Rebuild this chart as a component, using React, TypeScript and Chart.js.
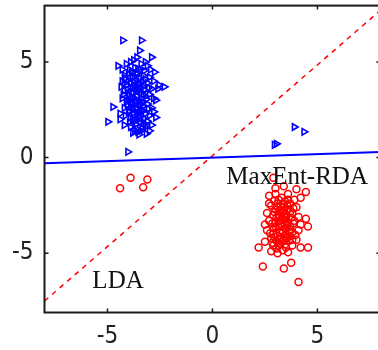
import React, { useEffect, useRef } from "react";
import { Chart, registerables } from "chart.js";

Chart.register(...registerables);

const X_RANGE = [-8, 8];
const Y_RANGE = [-8.1, 7.95];
const X_TICKS = [-5, 0, 5];
const Y_TICKS = [-5, 0, 5];

const BLUE_POINTS: number[][] = [
  [-4.27, 6.13], [-3.38, 6.13], [-3.47, 5.6], [-3.6, 5.25], [-2.9, 5.25], [-4.5, 4.8],
  [-2.76, 4.47], [-2.3, 3.7], [-2.55, 3.8], [-4.74, 2.65], [-4.98, 1.87], [-4.03, 0.3],
  [3.9, 1.6], [4.36, 1.35], [2.95, 0.67], [3.05, 0.72],
  [-4.3, 4.6], [-4.1, 4.9], [-3.9, 5.0], [-3.7, 4.7], [-3.4, 4.9], [-3.1, 4.8], [-2.95, 4.6],
  [-4.2, 4.3], [-4.0, 4.4], [-3.8, 4.2], [-3.6, 4.4], [-3.3, 4.3], [-3.0, 4.2], [-2.8, 4.0],
  [-4.3, 4.0], [-4.1, 3.8], [-3.9, 3.9], [-3.7, 3.7], [-3.5, 3.9], [-3.3, 3.7], [-3.1, 3.9],
  [-2.9, 3.6], [-2.6, 3.6], [-4.2, 3.5], [-4.0, 3.3], [-3.8, 3.4], [-3.6, 3.2], [-3.4, 3.4],
  [-3.2, 3.2], [-3.0, 3.3], [-2.8, 3.1], [-4.3, 3.1], [-4.1, 2.9], [-3.9, 3.0], [-3.7, 2.8],
  [-3.5, 2.9], [-3.3, 2.7], [-3.1, 2.8], [-2.9, 2.6], [-4.2, 2.6], [-4.0, 2.4], [-3.8, 2.5],
  [-3.6, 2.3], [-3.4, 2.5], [-3.2, 2.3], [-3.0, 2.2], [-2.8, 2.4], [-4.4, 2.3], [-3.9, 2.1],
  [-3.7, 1.9], [-3.5, 2.0], [-3.3, 1.8], [-3.1, 1.9], [-2.9, 1.7], [-3.9, 1.6], [-3.6, 1.5],
  [-3.4, 1.4], [-3.2, 1.6], [-3.0, 1.4], [-3.8, 1.3], [-3.5, 1.2], [-4.4, 2.0], [-4.2, 1.7],
  [-3.6, 4.0], [-3.5, 3.5], [-3.7, 3.1], [-3.8, 3.6], [-3.4, 3.1], [-3.6, 2.6], [-3.9, 2.7],
  [-3.45, 4.6], [-3.75, 5.1], [-3.2, 5.0], [-2.7, 3.0], [-2.7, 2.1], [-4.35, 3.7],
  [-4.15, 4.15], [-3.95, 4.6], [-3.85, 4.45], [-3.55, 4.65], [-3.25, 4.55], [-4.05, 3.55],
  [-3.95, 3.25], [-3.75, 3.95], [-3.65, 3.45], [-3.25, 3.55], [-3.15, 3.05], [-4.05, 2.75],
  [-3.85, 2.85], [-3.75, 2.35], [-3.45, 2.75], [-3.55, 2.15], [-3.25, 2.05], [-3.05, 2.55],
  [-3.95, 1.85], [-3.65, 1.75], [-3.35, 1.55], [-3.15, 1.25], [-3.7, 1.4], [-4.15, 2.2],
  [-3.35, 3.95], [-3.05, 3.65], [-3.55, 3.75], [-4.25, 3.3], [-3.85, 3.15], [-3.45, 2.35],
  [-4.0, 4.05], [-3.7, 4.25], [-3.45, 4.15], [-3.9, 3.7], [-3.6, 3.6], [-3.3, 3.3],
  [-4.0, 3.05], [-3.7, 2.95], [-3.35, 2.9], [-3.95, 2.45], [-3.65, 2.55], [-3.3, 2.45],
  [-3.8, 2.0], [-3.45, 1.85], [-3.2, 1.75], [-3.55, 1.35], [-4.2, 3.9], [-3.2, 4.1],
];

const RED_POINTS: number[][] = [
  [-4.4, -1.6], [-3.9, -1.05], [-3.3, -1.55], [-3.1, -1.15],
  [2.2, -4.7], [2.4, -5.7], [3.4, -5.8], [3.75, -5.5], [4.1, -6.5], [4.45, -1.8],
  [4.0, -1.65], [3.4, -1.5], [4.55, -4.7], [4.45, -3.2], [4.55, -3.6], [2.5, -3.5], [2.7, -2.4],
  [2.7, -2.0], [3.0, -1.9], [3.3, -2.1], [3.6, -1.9], [3.9, -2.2], [4.2, -2.1], [2.8, -2.5],
  [3.1, -2.4], [3.4, -2.6], [3.7, -2.4], [4.0, -2.6], [2.6, -2.9], [2.9, -3.0], [3.2, -2.8],
  [3.5, -3.0], [3.8, -2.9], [4.1, -3.1], [2.7, -3.3], [3.0, -3.4], [3.3, -3.2], [3.6, -3.4],
  [3.9, -3.3], [4.2, -3.5], [2.6, -3.8], [2.9, -3.7], [3.2, -3.9], [3.5, -3.7], [3.8, -3.9],
  [4.1, -3.8], [2.8, -4.2], [3.1, -4.1], [3.4, -4.3], [3.7, -4.1], [4.0, -4.3], [2.5, -4.4],
  [2.9, -4.6], [3.2, -4.5], [3.5, -4.7], [3.8, -4.6], [4.2, -4.7], [2.8, -4.9], [3.1, -5.0],
  [3.6, -4.95], [3.3, -3.6], [3.4, -3.0], [3.2, -3.3], [3.5, -4.0], [3.3, -4.4], [3.0, -2.7],
  [3.6, -2.7], [2.9, -4.0], [3.7, -3.6], [3.15, -2.2], [3.45, -2.3], [3.0, -1.6], [2.9, -1.05],
  [3.05, -3.15], [3.25, -3.45], [3.45, -3.25], [3.55, -3.55], [3.35, -3.85], [3.15, -3.65],
  [3.05, -4.35], [3.25, -4.15], [3.45, -4.55], [3.65, -4.35], [3.85, -3.45], [3.75, -3.15],
  [3.25, -2.55], [3.55, -2.45], [2.95, -2.25], [3.85, -2.65], [2.85, -3.45], [2.75, -3.95],
  [3.05, -4.75], [3.35, -4.85], [3.95, -4.05], [3.65, -3.85], [3.35, -2.85], [3.15, -3.0],
  [3.1, -2.6], [3.4, -2.75], [3.7, -2.85], [2.95, -2.85], [3.2, -3.1], [3.5, -3.15],
  [3.0, -3.6], [3.45, -3.45], [3.7, -3.75], [2.95, -4.15], [3.2, -4.3], [3.55, -4.2],
  [3.15, -4.6], [3.45, -4.1], [3.8, -4.3], [3.35, -2.4], [3.6, -2.2], [2.85, -4.45],
];

const BLUE_LINE: number[][] = [[-8, -0.3], [8, 0.3]];
const RED_LINE: number[][] = [[-8, -7.5], [8, 7.7]];

const LABEL_TEXTS = ["MaxEnt-RDA", "LDA"];
const LABEL_X = [0.66, -5.72];
const LABEL_Y = [-1.38, -6.83];

const toXY = (arr: number[][]) => arr.map(([x, y]) => ({ x, y }));

const framePlugin = {
  id: "frame",
  afterDatasetsDraw(chart: any) {
    const { ctx, chartArea, scales } = chart;
    const xs = scales.x;
    const ys = scales.y;
    ctx.save();
    ctx.fillStyle = "#111";
    ctx.font = '25px "Liberation Serif", "Times New Roman", serif';
    ctx.textBaseline = "alphabetic";
    ctx.textAlign = "left";
    LABEL_TEXTS.forEach((t, i) => {
      ctx.fillText(t, xs.getPixelForValue(LABEL_X[i]), ys.getPixelForValue(LABEL_Y[i]));
    });
    ctx.strokeStyle = "#1a1a1a";
    ctx.lineWidth = 2;
    ctx.strokeRect(chartArea.left, chartArea.top, chartArea.right - chartArea.left, chartArea.bottom - chartArea.top);
    const tl = 4;
    ctx.lineWidth = 1.5;
    ctx.beginPath();
    X_TICKS.forEach((v) => {
      const px = xs.getPixelForValue(v);
      ctx.moveTo(px, chartArea.bottom);
      ctx.lineTo(px, chartArea.bottom - tl);
      ctx.moveTo(px, chartArea.top);
      ctx.lineTo(px, chartArea.top + tl);
    });
    Y_TICKS.forEach((v) => {
      const py = ys.getPixelForValue(v);
      ctx.moveTo(chartArea.left, py);
      ctx.lineTo(chartArea.left + tl, py);
      ctx.moveTo(chartArea.right, py);
      ctx.lineTo(chartArea.right - tl, py);
    });
    ctx.stroke();
    ctx.restore();
  },
};

export default function App() {
  const canvasRef = useRef<HTMLCanvasElement | null>(null);

  useEffect(() => {
    const canvas = canvasRef.current;
    if (!canvas) return;
    const tickFont = { family: '"Liberation Sans Narrow", "DejaVu Sans Condensed", "Liberation Sans", Arial, sans-serif', size: 24 };
    const chart = new Chart(canvas, {
      type: "scatter",
      data: {
        datasets: [
          {
            label: "blue",
            data: toXY(BLUE_POINTS),
            pointStyle: "triangle",
            rotation: 90,
            pointRadius: 3.8,
            borderWidth: 1.6,
            borderColor: "#0000ff",
            backgroundColor: "rgba(0,0,0,0)",
          },
          {
            label: "red",
            data: toXY(RED_POINTS),
            pointStyle: "circle",
            pointRadius: 3.5,
            borderWidth: 1.5,
            borderColor: "#ff0000",
            backgroundColor: "rgba(0,0,0,0)",
          },
          {
            label: "blueLine",
            data: toXY(BLUE_LINE),
            showLine: true,
            pointRadius: 0,
            borderColor: "#0000ff",
            borderWidth: 2,
          },
          {
            label: "redLine",
            data: toXY(RED_LINE),
            showLine: true,
            pointRadius: 0,
            borderColor: "#ff0000",
            borderWidth: 1.5,
            borderDash: [5, 5],
          },
        ],
      } as any,
      options: {
        responsive: false,
        animation: false,
        devicePixelRatio: 1,
        layout: { padding: { left: 0, top: 3.5, right: 3, bottom: 0 } },
        plugins: { legend: { display: false }, tooltip: { enabled: false } },
        scales: {
          x: {
            type: "linear",
            min: X_RANGE[0],
            max: X_RANGE[1],
            grid: { display: false, drawTicks: false },
            border: { display: false },
            afterBuildTicks: (s: any) => { s.ticks = X_TICKS.map((v) => ({ value: v })); },
            afterFit: (s: any) => { s.height = 37.5; s.paddingLeft = 0; s.paddingRight = 0; s.paddingTop = 0; s.paddingBottom = 0; },
            ticks: { font: tickFont, color: "#222", padding: 10, maxRotation: 0, callback: (v: any) => String(v) },
          },
          y: {
            type: "linear",
            min: Y_RANGE[0],
            max: Y_RANGE[1],
            grid: { display: false, drawTicks: false },
            border: { display: false },
            afterBuildTicks: (s: any) => { s.ticks = Y_TICKS.map((v) => ({ value: v })); },
            afterFit: (s: any) => { s.width = 44.5; s.paddingTop = 0; s.paddingBottom = 0; s.paddingLeft = 0; s.paddingRight = 0; },
            ticks: { font: tickFont, color: "#222", padding: 11, callback: (v: any) => String(v) },
          },
        },
      } as any,
      plugins: [framePlugin],
    });
    return () => chart.destroy();
  }, []);

  return (
    <div style={{ position: "fixed", left: 0, top: 0, width: 378, height: 350, overflow: "hidden", background: "#fff" }}>
      <canvas ref={canvasRef} width={386} height={350} style={{ width: 386, height: 350, display: "block" }} />
    </div>
  );
}
